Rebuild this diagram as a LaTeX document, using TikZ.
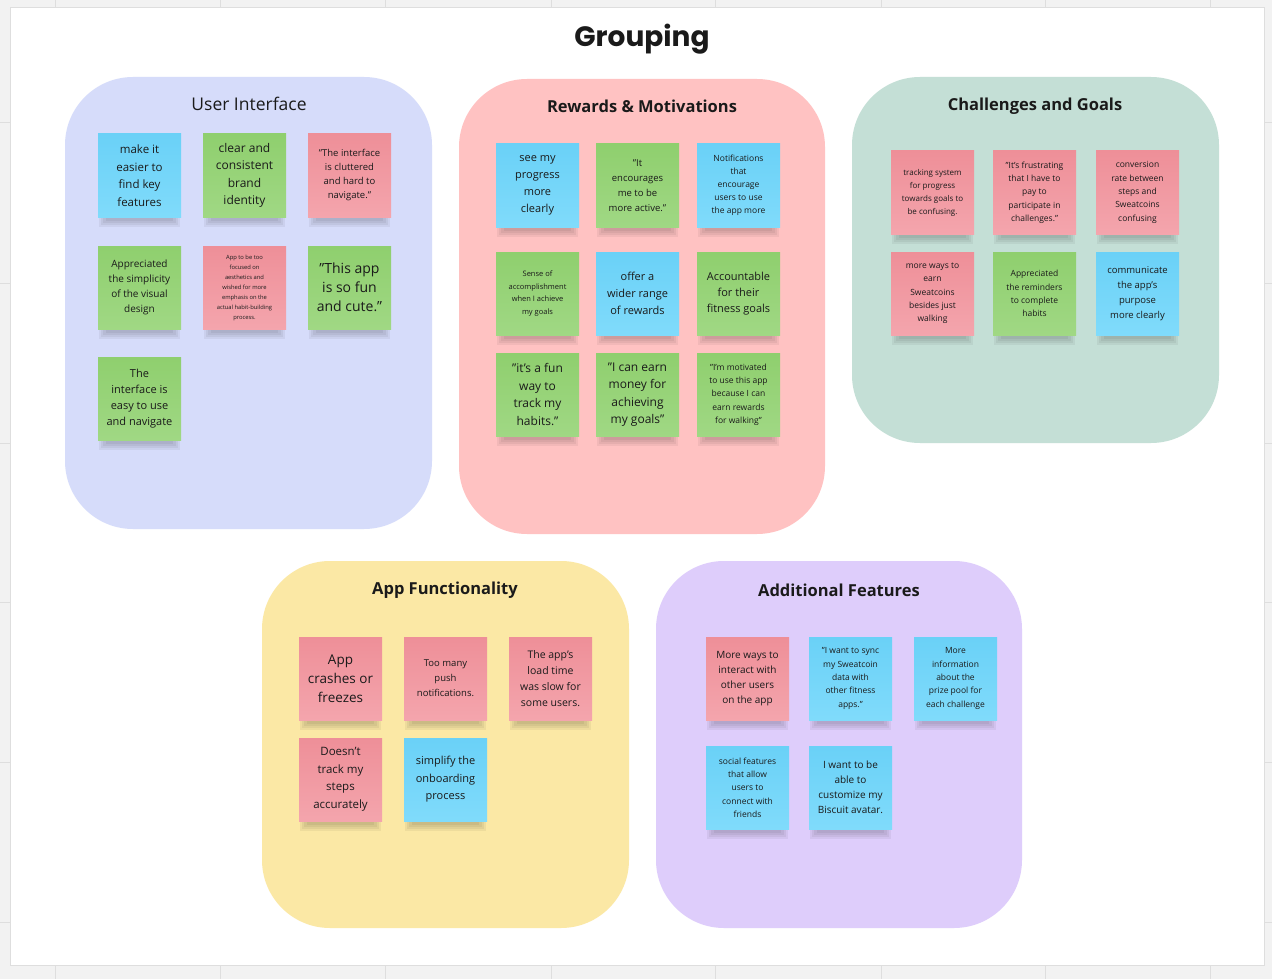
\documentclass[tikz,border=0pt]{standalone}
\usepackage{fontspec}
\setmainfont{Open Sans}
\newfontfamily\titlefont{Poppins}
\newfontfamily\grpfont{Open Sans}
\definecolor{bgc}{HTML}{F2F2F2}
\definecolor{gridc}{HTML}{DEDEDE}
\definecolor{gUI}{HTML}{D6DCFA}
\definecolor{gRW}{HTML}{FFC2C2}
\definecolor{gCG}{HTML}{C4DFD6}
\definecolor{gAF}{HTML}{FBE8A5}
\definecolor{gAD}{HTML}{DECDFB}
\definecolor{nbluet}{HTML}{6AD1F7}
\definecolor{nblueb}{HTML}{80DBFB}
\definecolor{ngreent}{HTML}{8FCF6E}
\definecolor{ngreenb}{HTML}{A0D884}
\definecolor{npinkt}{HTML}{EE8F98}
\definecolor{npinkb}{HTML}{F4A5AD}
\definecolor{inkc}{HTML}{1A1A1A}
\tikzset{
  grp/.style={rounded corners=68pt},
  grptitle/.style={font=\grpfont\fontsize{16.5}{18}\selectfont\bfseries, text=inkc},
  stickynote/.style={minimum width=83pt, minimum height=83pt, inner sep=0pt, align=center, text=inkc, shading angle=0},
  shadowpart/.style={black, opacity=.05},
}
\newcommand\stick[7]{%
  \fill[shadowpart] (#2+1,#3+60) rectangle (#2+82,#3+93);
  \fill[shadowpart] (#2+3,#3+64) rectangle (#2+80,#3+91);
  \fill[shadowpart] (#2+5,#3+68) rectangle (#2+78,#3+89);
  \fill[shadowpart] (#2+8,#3+72) rectangle (#2+75,#3+87);
  \node[stickynote, top color=n#4t, bottom color=n#4b, font=\fontsize{#5}{#6}\selectfont] (#1) at (#2+41.5,#3+41.5) {#7};
}
\begin{document}
\begin{tikzpicture}[x=1pt,y=-1pt]
\useasboundingbox (0,0) rectangle (1272,979);
\fill[bgc] (0,0) rectangle (1272,979);
\foreach \gx in {55,220,385,551,715,881,1045,1210} \draw[gridc,line width=1pt] (\gx,0) -- (\gx,979);
\foreach \gy in {123,283,443,602,762,922} \draw[gridc,line width=1pt] (0,\gy) -- (1272,\gy);
\fill[white,draw=gridc] (10,7) rectangle (1264,965);
\node[font=\titlefont\fontsize{28}{32}\selectfont\bfseries, text=inkc] (title) at (642,39) {Grouping};
% groups
\fill[gUI,grp] (65,77) rectangle (432,529);
\fill[gRW,grp] (459,79) rectangle (825,534);
\fill[gCG,grp] (852,77) rectangle (1219,443);
\fill[gAF,grp] (262,561) rectangle (629,928);
\fill[gAD,grp] (656,561) rectangle (1022,928);
\node[grptitle, font=\grpfont\fontsize{17.5}{20}\selectfont\mdseries] (tUI) at (249,104) {User Interface};
\node[grptitle] (tRW) at (642,106) {Rewards \& Motivations};
\node[grptitle] (tCG) at (1035,106) {Challenges and Goals};
\node[grptitle] (tAF) at (445,590) {App Functionality};
\node[grptitle] (tAD) at (839,590) {Additional Features};
% User Interface
\stick{ui1}{98}{134}{blue}{11.5}{17.5}{make it\\easier to\\find key\\features}
\stick{ui2}{203}{134}{green}{12}{17.5}{clear and\\consistent\\brand\\identity}
\stick{ui3}{308}{134}{pink}{9.5}{14}{"The interface\\is cluttered\\and hard to\\navigate."}
\stick{ui4}{98}{246}{green}{10}{15}{Appreciated\\the simplicity\\of the visual\\design}
\stick{ui5}{203}{246}{pink}{5.8}{10}{App to be too\\focused on\\aesthetics and\\wished for more\\emphasis on the\\actual habit-building\\process.}
\stick{ui6}{308}{246}{green}{14}{19}{"This app\\is so fun\\and cute."}
\stick{ui7}{98}{357}{green}{11}{16}{The\\interface is\\easy to use\\and navigate}
% Rewards
\stick{rw1}{496}{144}{blue}{11}{17}{see my\\progress\\more\\clearly}
\stick{rw2}{596}{144}{green}{9.5}{15}{"It\\encourages\\me to be\\more active."}
\stick{rw3}{697}{144}{blue}{8.5}{13}{Notifications\\that\\encourage\\users to use\\the app more}
\stick{rw4}{496}{252}{green}{7.5}{12.7}{Sense of\\accomplishment\\when I achieve\\my goals}
\stick{rw5}{596}{252}{blue}{11}{17}{offer a\\wider range\\of rewards}
\stick{rw6}{697}{252}{green}{11}{16}{Accountable\\for their\\fitness goals}
\stick{rw7}{496}{353}{green}{12}{17.5}{"it's a fun\\way to\\track my\\habits."}
\stick{rw8}{596}{353}{green}{12}{17.5}{"I can earn\\money for\\achieving\\my goals"}
\stick{rw9}{697}{353}{green}{8.5}{13.3}{"I'm motivated\\to use this app\\because I can\\earn rewards\\for walking"}
% Challenges
\stick{cg1}{891}{151}{pink}{8}{13}{tracking system\\for progress\\towards goals to\\be confusing.}
\stick{cg2}{993}{151}{pink}{8.5}{13.3}{"It's frustrating\\that I have to\\pay to\\participate in\\challenges."}
\stick{cg3}{1096}{151}{pink}{8.5}{13.3}{conversion\\rate between\\steps and\\Sweatcoins\\confusing}
\stick{cg4}{891}{252}{pink}{8.5}{13.3}{more ways to\\earn\\Sweatcoins\\besides just\\walking}
\stick{cg5}{993}{252}{green}{8.5}{13.3}{Appreciated\\the reminders\\to complete\\habits}
\stick{cg6}{1096}{252}{blue}{9.5}{15}{communicate\\the app's\\purpose\\more clearly}
% App Functionality
\stick{af1}{299}{637}{pink}{13.5}{19}{App\\crashes or\\freezes}
\stick{af2}{404}{637}{pink}{9.5}{15}{Too many\\push\\notifications.}
\stick{af3}{509}{637}{pink}{10.5}{16}{The app's\\load time\\was slow for\\some users.}
\stick{af4}{299}{738}{pink}{11.5}{17.5}{Doesn't\\track my\\steps\\accurately}
\stick{af5}{404}{738}{blue}{11}{17.5}{simplify the\\onboarding\\process}
% Additional Features
\stick{ad1}{706}{637}{pink}{10}{15}{More ways to\\interact with\\other users\\on the app}
\stick{ad2}{809}{637}{blue}{8.5}{13.3}{"I want to sync\\my Sweatcoin\\data with\\other fitness\\apps."}
\stick{ad3}{914}{637}{blue}{8.5}{13.3}{More\\information\\about the\\prize pool for\\each challenge}
\stick{ad4}{706}{746}{blue}{8.5}{13.3}{social features\\that allow\\users to\\connect with\\friends}
\stick{ad5}{809}{746}{blue}{10}{15}{I want to be\\able to\\customize my\\Biscuit avatar.}
\end{tikzpicture}
\end{document}
